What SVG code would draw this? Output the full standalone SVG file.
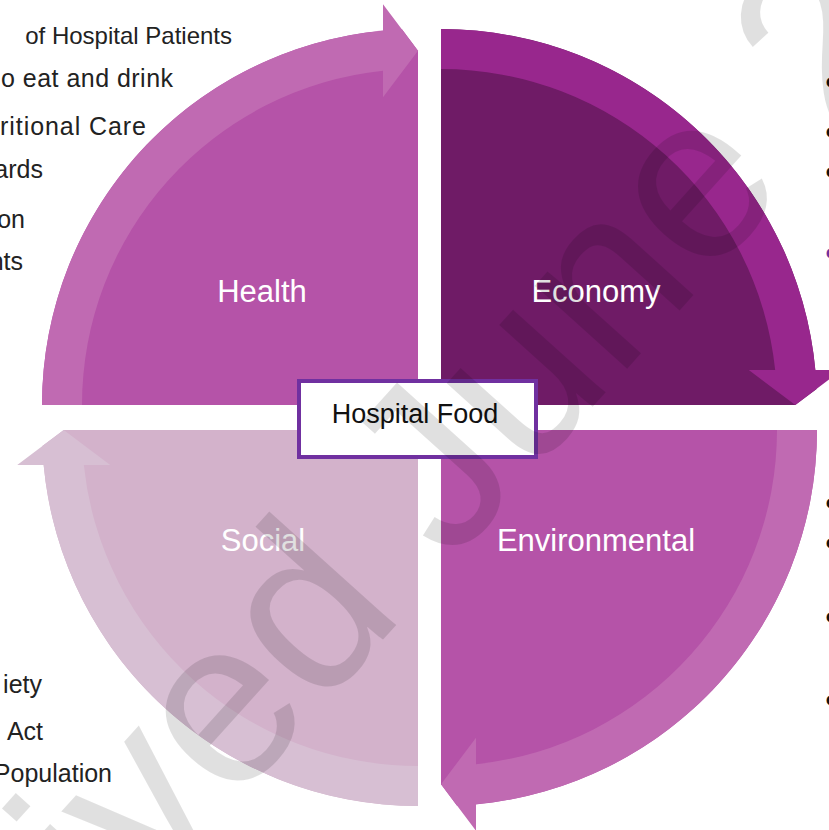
<svg xmlns="http://www.w3.org/2000/svg" width="829" height="830" viewBox="0 0 829 830">
<style>
.side{font-family:"Liberation Sans",Arial,sans-serif;font-size:25px;fill:#222}
.lbl{font-family:"Liberation Sans",Arial,sans-serif;font-size:31px;fill:#fff;text-anchor:middle}
.bul{font-family:"Liberation Sans",Arial,sans-serif;font-size:40px;fill:#111}
.mid{font-family:"Liberation Sans",Arial,sans-serif;font-size:27px;fill:#111;text-anchor:middle}
.wm{font-family:"Liberation Sans",Arial,sans-serif;font-size:235px;fill:#000;fill-opacity:0.12}
</style>
<rect width="829" height="830" fill="#fff"/>
<g id="node-health">
<path d="M418,405 L42,405 A376,376 0 0 1 402,29.35 L418,50.73 Z" fill="#B553A8"/>
<text class="lbl" x="262" y="302">Health</text>
</g>
<g id="node-economy">
<path d="M441,405 L441,29 A376,376 0 0 1 816.65,389 L795.27,405 Z" fill="#6F1B66"/>
<text class="lbl" x="596" y="302">Economy</text>
</g>
<g id="node-environmental">
<path d="M441,430 L817,430 A376,376 0 0 1 457,805.65 L441,784.27 Z" fill="#B553A8"/>
<text class="lbl" x="596" y="551">Environmental</text>
</g>
<g id="node-social">
<path d="M418,430 L418,806 A376,376 0 0 1 42.35,446 L63.73,430 Z" fill="#D3B2CB"/>
<text class="lbl" x="263" y="551">Social</text>
</g>
<g id="connectors">
<path d="M42,405 A376,376 0 0 1 383,30.63 L383,4.23 L418,50.73 L383,97.23 L383,70.83 A336,336 0 0 0 82,405 Z" fill="#C06AB2"/>
<path d="M441,29 A376,376 0 0 1 815.37,370 L841.77,370 L795.27,405 L748.77,370 L775.17,370 A336,336 0 0 0 441,69 Z" fill="#98278D"/>
<path d="M817,430 A376,376 0 0 1 476,804.37 L476,830.77 L441,784.27 L476,737.77 L476,764.17 A336,336 0 0 0 777,430 Z" fill="#C06AB2"/>
<path d="M418,806 A376,376 0 0 1 43.63,465 L17.23,465 L63.73,430 L110.23,465 L83.83,465 A336,336 0 0 0 418,766 Z" fill="#D7BFD3"/>
</g>
<g id="node-center">
<rect x="299" y="381" width="237" height="76" fill="#fff" stroke="#7030A0" stroke-width="4"/>
<text class="mid" x="415" y="423">Hospital Food</text>
</g>
<g id="left-text">
<text class="side" x="232" y="44" text-anchor="end" style="font-size:24px">of Hospital Patients</text>
<text class="side" x="1" y="87" textLength="172">o eat and drink</text>
<text class="side" x="0" y="135" textLength="146">ritional Care</text>
<text class="side" x="43" y="178" text-anchor="end">ards</text>
<text class="side" x="25" y="228" text-anchor="end">on</text>
<text class="side" x="23" y="270" text-anchor="end">nts</text>
<text class="side" x="42" y="693" text-anchor="end">iety</text>
<text class="side" x="43" y="740" text-anchor="end">Act</text>
<text class="side" x="112" y="782" text-anchor="end">Population</text>
</g>
<g id="right-bullets">
<text class="bul" x="825" y="96">•</text>
<text class="bul" x="825" y="146">•</text>
<text class="bul" x="825" y="186">•</text>
<text class="bul" x="825" y="267" style="fill:#7030A0">•</text>
<text class="bul" x="825" y="517">•</text>
<text class="bul" x="825" y="557">•</text>
<text class="bul" x="825" y="631">•</text>
<text class="bul" x="825" y="714">•</text>
</g>
<g id="watermark">
<text class="wm" transform="translate(118,934) rotate(-48)">ived June 2</text>
</g>
</svg>
